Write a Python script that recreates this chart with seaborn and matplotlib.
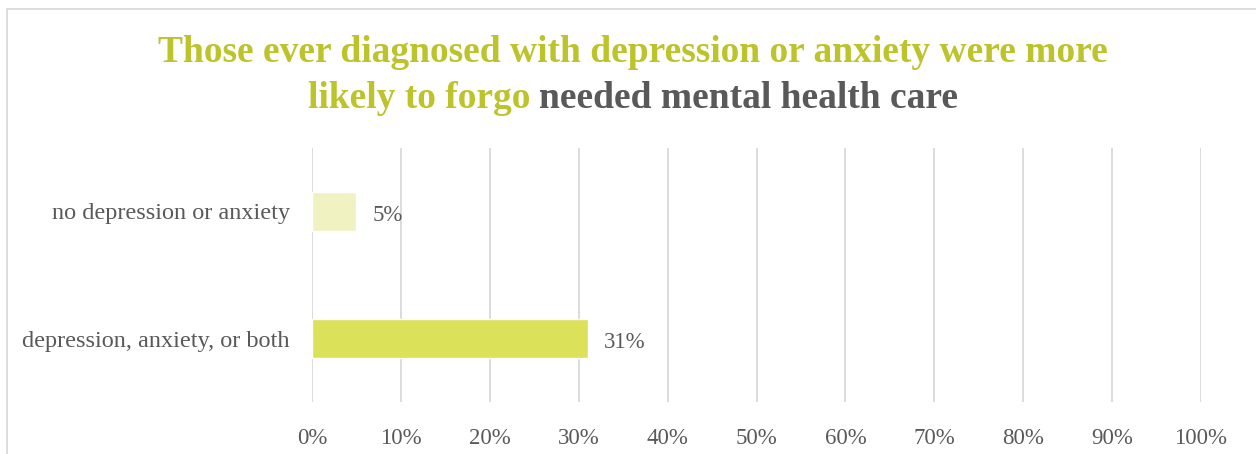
import matplotlib
matplotlib.use("Agg")
import matplotlib.pyplot as plt
import seaborn as sns
import pandas as pd
from matplotlib.patches import Rectangle
from matplotlib.ticker import FuncFormatter

# Share of adults who went without needed mental health care
categories = ["no depression or anxiety", "depression, anxiety, or both"]
values = [5, 31]
bar_colors = ["#F0F3C1", "#DCE15A"]
tick_values = [0, 10, 20, 30, 40, 50, 60, 70, 80, 90, 100]

title_line1 = "Those ever diagnosed with depression or anxiety were more"
title_line2_green = "likely to forgo "
title_line2_gray = "needed mental health care"

GREEN = "#BDC32A"
GRAY = "#595959"
GRID = "#D9D9D9"

sns.set_theme(style="white")
plt.rcParams["font.family"] = ["Liberation Serif", "DejaVu Serif"]

df = pd.DataFrame({"category": categories, "value": values})

fig = plt.figure(figsize=(12.56, 4.54), dpi=100)
ax = fig.add_axes([312 / 1256, 1 - 402 / 454, (1201 - 312) / 1256, (402 - 148) / 454])

sns.barplot(data=df, x="value", y="category", hue="category",
            palette=bar_colors, order=categories, hue_order=categories,
            width=0.31, legend=False, ax=ax, saturation=1)

ax.set_xlim(0, 100)
ax.set_ylim(1.5, -0.5)
ax.set_xticks(tick_values)
ax.xaxis.set_major_formatter(FuncFormatter(lambda v, p: f"{v:.0f}%"))
ax.grid(axis="x", color=GRID, linewidth=1.3)
ax.set_axisbelow(True)
for s in ax.spines.values():
    s.set_visible(False)
ax.set_xlabel("")
ax.set_ylabel("")
ax.tick_params(axis="x", length=0, pad=18.5, labelsize=16.5, labelcolor=GRAY)
ax.tick_params(axis="y", length=0, pad=16, labelsize=17.5, labelcolor=GRAY)

for i, v in enumerate(values):
    ax.annotate(f"{v}%", xy=(v, i), xytext=(11.5, -3), textcoords="offset points",
                ha="left", va="center", fontsize=16.5, color=GRAY)

# chart frame
fig.patches.append(Rectangle((7 / 1256, -0.1), 1.1, 1 - 9 / 454 + 0.1,
                             transform=fig.transFigure, fill=False,
                             edgecolor=GRID, linewidth=1.3))

# title, two lines with a two-colour second line
tsize = 27
cx = 633 / 1256
fig.text(cx, 1 - 53 / 454, title_line1, ha="center", va="center",
         fontsize=tsize, fontweight="bold", color=GREEN)
t_a = fig.text(0, 1 - 98 / 454, title_line2_green, ha="left", va="center",
               fontsize=tsize, fontweight="bold", color=GREEN)
t_b = fig.text(0, 1 - 98 / 454, title_line2_gray, ha="left", va="center",
               fontsize=tsize, fontweight="bold", color=GRAY)
fig.canvas.draw()
r = fig.canvas.get_renderer()
wa = t_a.get_window_extent(r).width / fig.bbox.width
wb = t_b.get_window_extent(r).width / fig.bbox.width
x0 = cx - (wa + wb) / 2
t_a.set_x(x0)
t_b.set_x(x0 + wa)

fig.savefig("out.png", dpi=100)
